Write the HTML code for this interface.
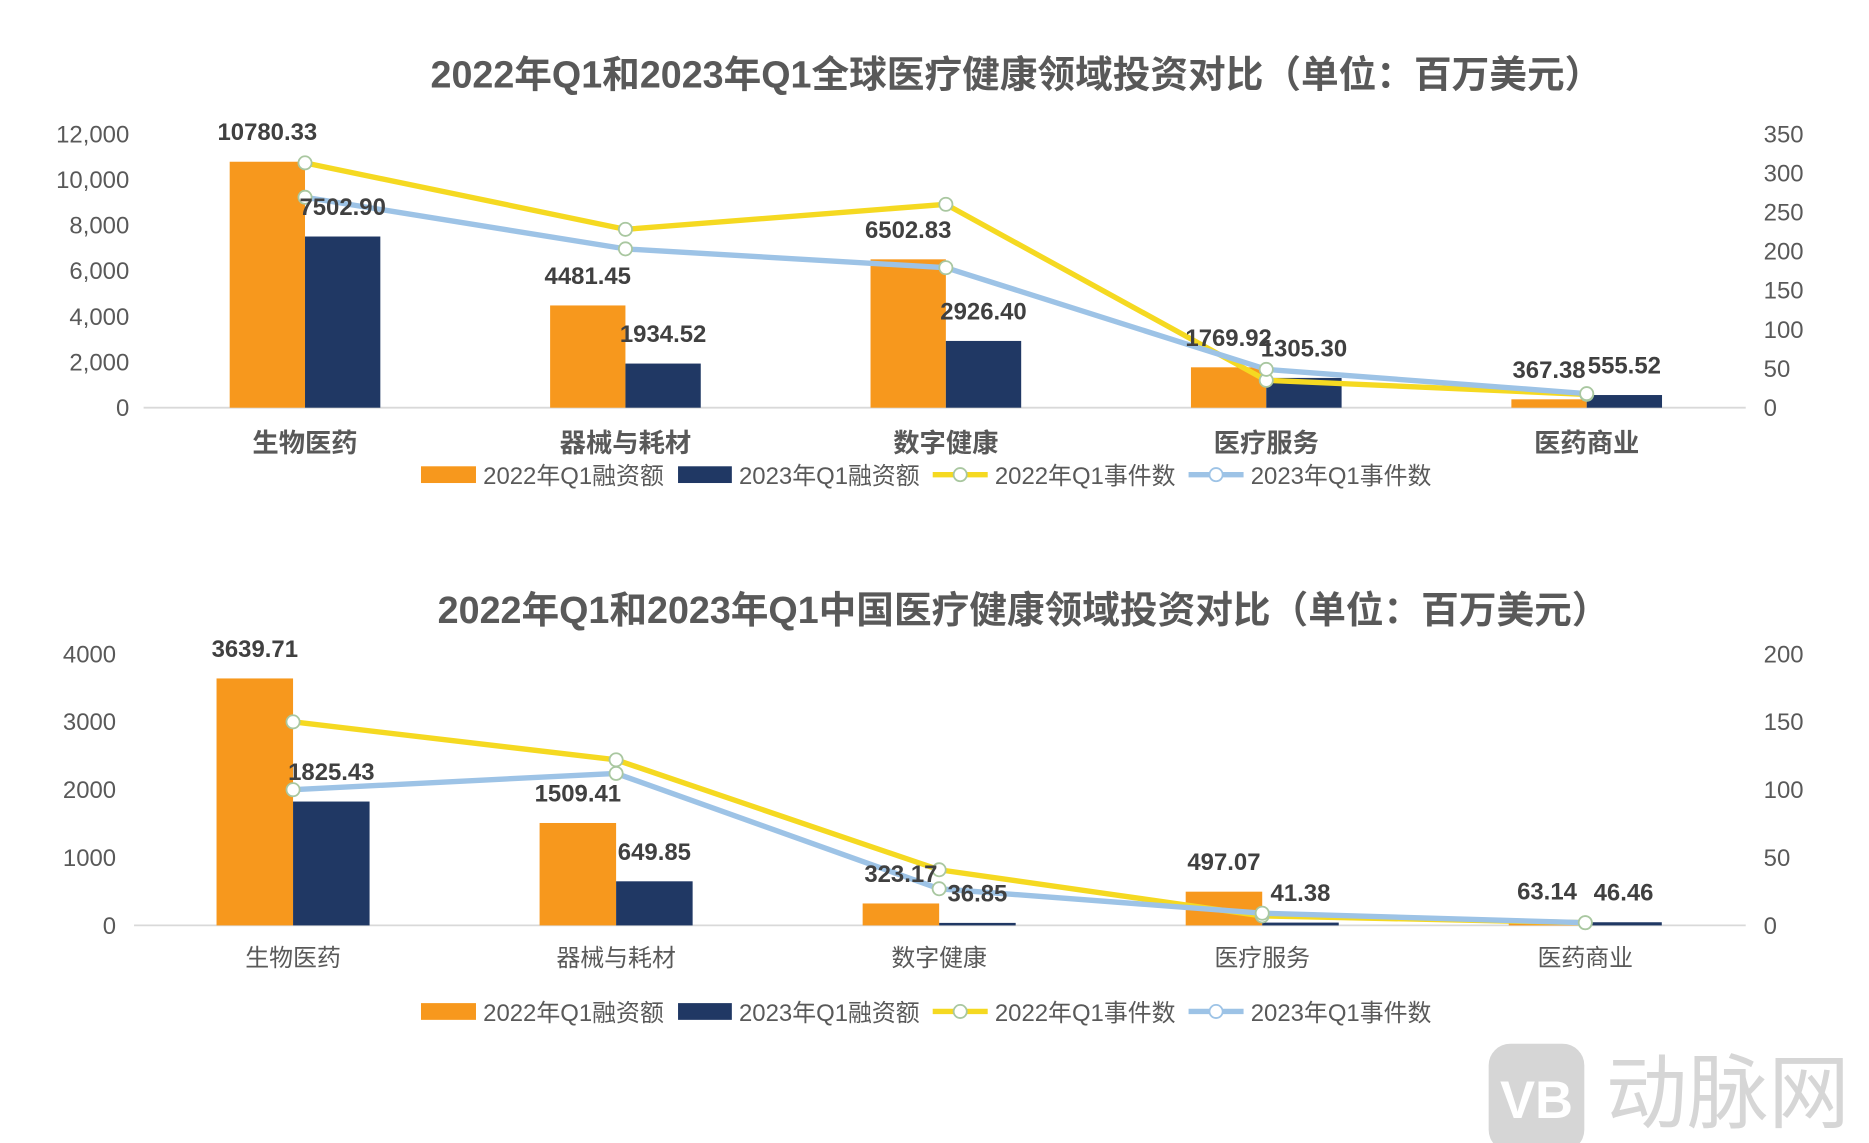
<!DOCTYPE html>
<html><head><meta charset="utf-8">
<style>
html,body{margin:0;padding:0;background:#fff;width:1869px;height:1143px;overflow:hidden}
svg{display:block}
text{font-family:"Liberation Sans","Noto Sans CJK SC",sans-serif}
</style></head>
<body>
<svg id="s" width="1869" height="1143" viewBox="0 0 1563 956" xmlns="http://www.w3.org/2000/svg">
<g id="wm">
  <rect x="1245" y="873" width="80" height="90" rx="18" fill="#d6d6d6"/>
  <text x="1285" y="935" font-size="44" font-weight="bold" fill="#fff" text-anchor="middle">VB</text>
  <text x="1343" y="938" font-size="68" fill="#d6d6d6">动脉网</text>
</g>
</svg>
<script>
const cats = ["生物医药","器械与耗材","数字健康","医疗服务","医药商业"];
const g1_2022 = [10780.33,4481.45,6502.83,1769.92,367.38];
const g1_2023 = [7502.90,1934.52,2926.40,1305.30,555.52];
const g1_ev22 = [313,228,260,35,17];
const g1_ev23 = [269,203,179,49,18];
const g1_lt = ["0","2,000","4,000","6,000","8,000","10,000","12,000"];
const g1_rt = ["0","50","100","150","200","250","300","350"];
const c_2022 = [3639.71,1509.41,323.17,497.07,63.14];
const c_2023 = [1825.43,649.85,36.85,41.38,46.46];
const c_ev22 = [150,122,41,7,2];
const c_ev23 = [100,112,27,9,2];
const c_lt = ["0","1000","2000","3000","4000"];
const c_rt = ["0","50","100","150","200"];

const NS="http://www.w3.org/2000/svg";
const svg=document.getElementById('s');
function el(t,a,txt,parent){const e=document.createElementNS(NS,t);for(const k in a)e.setAttribute(k,a[k]);if(txt!=null)e.textContent=txt;(parent||svg).appendChild(e);return e;}

function chart(o){
  const g=el('g',{});
  
  
  const yL=v=>o.y0-(v/o.lmax)*(o.y0-o.yTop);
  const yR=v=>o.y0-(v/o.rmax)*(o.y0-o.yTop);
  const cx=i=>o.cx0+i*o.step;
  const t=el('text',{x:o.titleX,y:o.titleY,'font-size':31.5,'font-weight':'bold',fill:'#595959','text-anchor':'middle'},o.title,g);
  
  
  o.lt.forEach((s,i)=>{const v=i*o.lmax/(o.lt.length-1);
    const e=el('text',{x:o.lx,y:yL(v)+7,'font-size':20,fill:'#595959','text-anchor':'end'},s,g);
    
    });
  o.rt.forEach((s,i)=>{const v=i*o.rmax/(o.rt.length-1);
    const e=el('text',{x:1475,y:yR(v)+7,'font-size':20,fill:'#595959'},s,g);
    
    });
  const ax=el('line',{x1:o.bx0,x2:1460,y1:o.y0,y2:o.y0,stroke:'#d9d9d9','stroke-width':1.5},null,g);
  
  
  cats.forEach((c,i)=>{
    const b1=el('rect',{x:cx(i)-o.bw,y:yL(o.a[i]),width:o.bw,height:o.y0-yL(o.a[i]),fill:'#F7981D'},null,g);
    
    
    const b2=el('rect',{x:cx(i),y:yL(o.b[i]),width:o.bw,height:o.y0-yL(o.b[i]),fill:'#203864'},null,g);
    
    
    const cl=el('text',{x:cx(i),y:o.catY,'font-size':o.catBold?22:20,'font-weight':o.catBold?'bold':'normal',fill:'#595959','text-anchor':'middle'},c,g);
    
    
  });
  [[o.e22,'#F5D921','line-2022-events'],[o.e23,'#9DC3E6','line-2023-events']].forEach(([d,col,nm])=>{
    const p=el('polyline',{points:d.map((v,i)=>cx(i)+','+yR(v)).join(' '),fill:'none',stroke:col,'stroke-width':4.5,'stroke-linejoin':'round'},null,g);
    
    
    d.forEach((v,i)=>{const m=el('circle',{cx:cx(i),cy:yR(v),r:5.5,fill:'#fff',stroke:'#A9C7A0','stroke-width':1.5},null,g);
      
      });
  });
  cats.forEach((c,i)=>{
    const l1=el('text',{x:cx(i)-o.bw/2,y:yL(o.a[i])-18,'font-size':20,'font-weight':'bold',fill:'#404040','text-anchor':'middle'},o.a[i].toFixed(2),g);
    
    
    const l2=el('text',{x:cx(i)+o.bw/2,y:yL(o.b[i])-18,'font-size':20,'font-weight':'bold',fill:'#404040','text-anchor':'middle'},o.b[i].toFixed(2),g);
    
    
  });
  const lg=el('g',{},null,g);
  
  
  const ly=o.legY;
  el('rect',{x:352,y:ly-7,width:46,height:14,fill:'#F7981D'},null,lg);
  el('text',{x:404,y:ly+8,'font-size':20,fill:'#595959'},'2022年Q1融资额',lg);
  el('rect',{x:567,y:ly-7,width:45,height:14,fill:'#203864'},null,lg);
  el('text',{x:618,y:ly+8,'font-size':20,fill:'#595959'},'2023年Q1融资额',lg);
  el('line',{x1:780,x2:826,y1:ly,y2:ly,stroke:'#F5D921','stroke-width':4.5},null,lg);
  el('circle',{cx:803,cy:ly,r:5.5,fill:'#fff',stroke:'#A9C7A0','stroke-width':1.5},null,lg);
  el('text',{x:832,y:ly+8,'font-size':20,fill:'#595959'},'2022年Q1事件数',lg);
  el('line',{x1:994,x2:1040,y1:ly,y2:ly,stroke:'#9DC3E6','stroke-width':4.5},null,lg);
  el('circle',{cx:1017,cy:ly,r:5.5,fill:'#fff',stroke:'#9DC3E6','stroke-width':1.5},null,lg);
  el('text',{x:1046,y:ly+8,'font-size':20,fill:'#595959'},'2023年Q1事件数',lg);
}
chart({name:'global-investment-chart',title:'2022年Q1和2023年Q1全球医疗健康领域投资对比（单位：百万美元）',titleX:850,titleY:73,
  y0:341,yTop:112,lmax:12000,rmax:350,lt:g1_lt,rt:g1_rt,lx:108,bx0:120,cx0:255,step:268,bw:63,
  a:g1_2022,b:g1_2023,e22:g1_ev22,e23:g1_ev23,catY:378,catBold:true,legY:397});
chart({name:'china-investment-chart',title:'2022年Q1和2023年Q1中国医疗健康领域投资对比（单位：百万美元）',titleX:856,titleY:521,
  y0:774,yTop:547,lmax:4000,rmax:200,lt:c_lt,rt:c_rt,lx:97,bx0:112,cx0:245,step:270.2,bw:64,
  a:c_2022,b:c_2023,e22:c_ev22,e23:c_ev23,catY:808,catBold:false,legY:846});
</script>
</body></html>
